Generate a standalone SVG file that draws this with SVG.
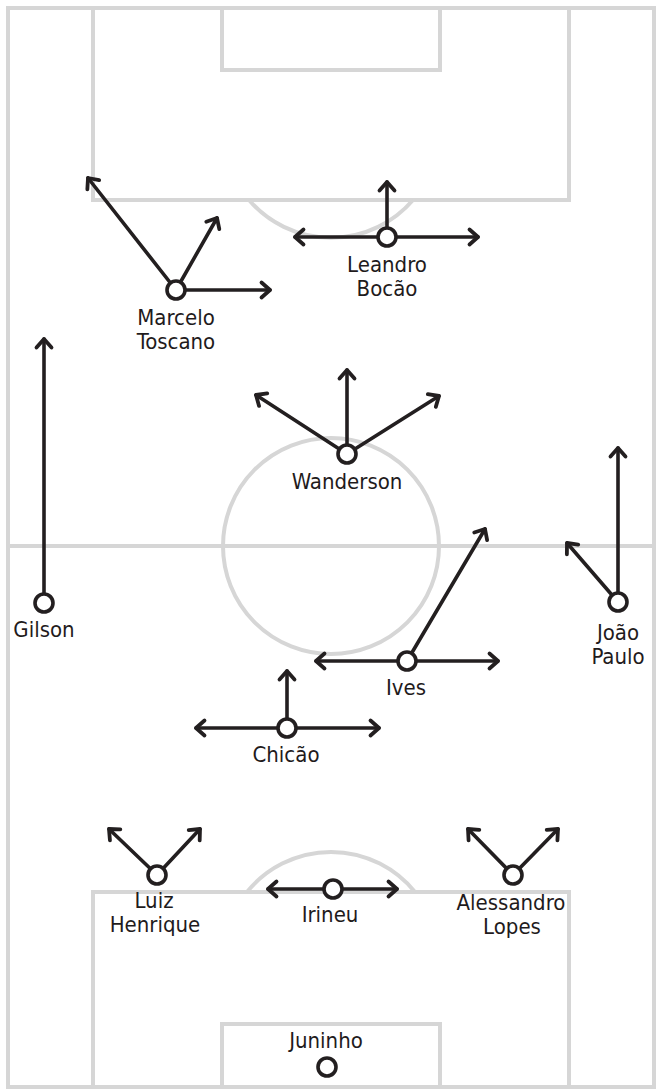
<svg xmlns="http://www.w3.org/2000/svg" width="660" height="1092" viewBox="0 0 660 1092">
<style>
.f{fill:none;stroke:#d6d6d6;stroke-width:4}
.a{fill:none;stroke:#231f20;stroke-width:3.6;stroke-linecap:round;marker-end:url(#ah)}
.p{fill:#fff;stroke:#231f20;stroke-width:3.6}
text{font-family:"DejaVu Sans Condensed","DejaVu Sans",sans-serif;font-stretch:condensed;font-size:22px;fill:#1f1b1c;text-anchor:middle}
</style>
<defs>
<marker id="ah" markerUnits="userSpaceOnUse" markerWidth="20" markerHeight="20" refX="0" refY="0" viewBox="-12 -10 14 20" orient="auto" overflow="visible">
<path d="M-8.5,-7.5 L0,0 L-8.5,7.5" fill="none" stroke="#231f20" stroke-width="3.8" stroke-linecap="round" stroke-linejoin="round"/>
</marker>
</defs>
<rect width="660" height="1092" fill="#fff"/>
<g id="field">
<rect class="f" x="8" y="8" width="646" height="1079"/>
<polyline class="f" points="93,8 93,200 569,200 569,8"/>
<polyline class="f" points="222,8 222,70 440,70 440,8"/>
<path class="f" d="M249,200 A108,108 0 0 0 413,200"/>
<line class="f" x1="8" y1="546" x2="654" y2="546"/>
<circle class="f" cx="331" cy="546" r="108"/>
<polyline class="f" points="93,1087 93,892 569,892 569,1087"/>
<polyline class="f" points="222,1087 222,1024 440,1024 440,1087"/>
<path class="f" d="M247,892 A108,108 0 0 1 415,892"/>
</g>
<g id="connectors">
<line class="a" x1="176" y1="290" x2="88" y2="178"/>
<line class="a" x1="176" y1="290" x2="217" y2="218"/>
<line class="a" x1="176" y1="290" x2="270" y2="290"/>
<line class="a" x1="387" y1="237" x2="387" y2="182"/>
<line class="a" x1="387" y1="237" x2="295" y2="237"/>
<line class="a" x1="387" y1="237" x2="478" y2="237"/>
<line class="a" x1="347" y1="454" x2="347" y2="370"/>
<line class="a" x1="347" y1="454" x2="256" y2="395"/>
<line class="a" x1="347" y1="454" x2="439" y2="396"/>
<line class="a" x1="44" y1="603" x2="44" y2="339"/>
<line class="a" x1="618" y1="602" x2="618" y2="448"/>
<line class="a" x1="618" y1="602" x2="567" y2="543"/>
<line class="a" x1="407" y1="661" x2="316" y2="661"/>
<line class="a" x1="407" y1="661" x2="498" y2="661"/>
<line class="a" x1="407" y1="661" x2="485" y2="529"/>
<line class="a" x1="287" y1="728" x2="287" y2="671"/>
<line class="a" x1="287" y1="728" x2="196" y2="728"/>
<line class="a" x1="287" y1="728" x2="379" y2="728"/>
<line class="a" x1="157" y1="875" x2="109" y2="829"/>
<line class="a" x1="157" y1="875" x2="200" y2="829"/>
<line class="a" x1="333" y1="889" x2="268" y2="889"/>
<line class="a" x1="333" y1="889" x2="397" y2="889"/>
<line class="a" x1="513" y1="875" x2="468" y2="829"/>
<line class="a" x1="513" y1="875" x2="558" y2="829"/>
</g>
<g id="marcelo-toscano"><circle class="p" cx="176" cy="290" r="9"/><text x="176" y="325">Marcelo</text><text x="176" y="349">Toscano</text></g>
<g id="leandro-bocao"><circle class="p" cx="387" cy="237" r="9"/><text x="387" y="272">Leandro</text><text x="387" y="296">Bocão</text></g>
<g id="wanderson"><circle class="p" cx="347" cy="454" r="9"/><text x="347" y="489">Wanderson</text></g>
<g id="gilson"><circle class="p" cx="44" cy="603" r="9"/><text x="44" y="637">Gilson</text></g>
<g id="joao-paulo"><circle class="p" cx="618" cy="602" r="9"/><text x="618" y="640">João</text><text x="618" y="664">Paulo</text></g>
<g id="ives"><circle class="p" cx="407" cy="661" r="9"/><text x="406" y="695">Ives</text></g>
<g id="chicao"><circle class="p" cx="287" cy="728" r="9"/><text x="286" y="762">Chicão</text></g>
<g id="luiz-henrique"><circle class="p" cx="157" cy="875" r="9"/><text x="154" y="908">Luiz</text><text x="155" y="932">Henrique</text></g>
<g id="irineu"><circle class="p" cx="333" cy="889" r="9"/><text x="330" y="922">Irineu</text></g>
<g id="alessandro-lopes"><circle class="p" cx="513" cy="875" r="9"/><text x="511" y="910">Alessandro</text><text x="512" y="934">Lopes</text></g>
<g id="juninho"><text x="326" y="1048">Juninho</text><circle class="p" cx="327" cy="1067" r="9"/></g>
</svg>
